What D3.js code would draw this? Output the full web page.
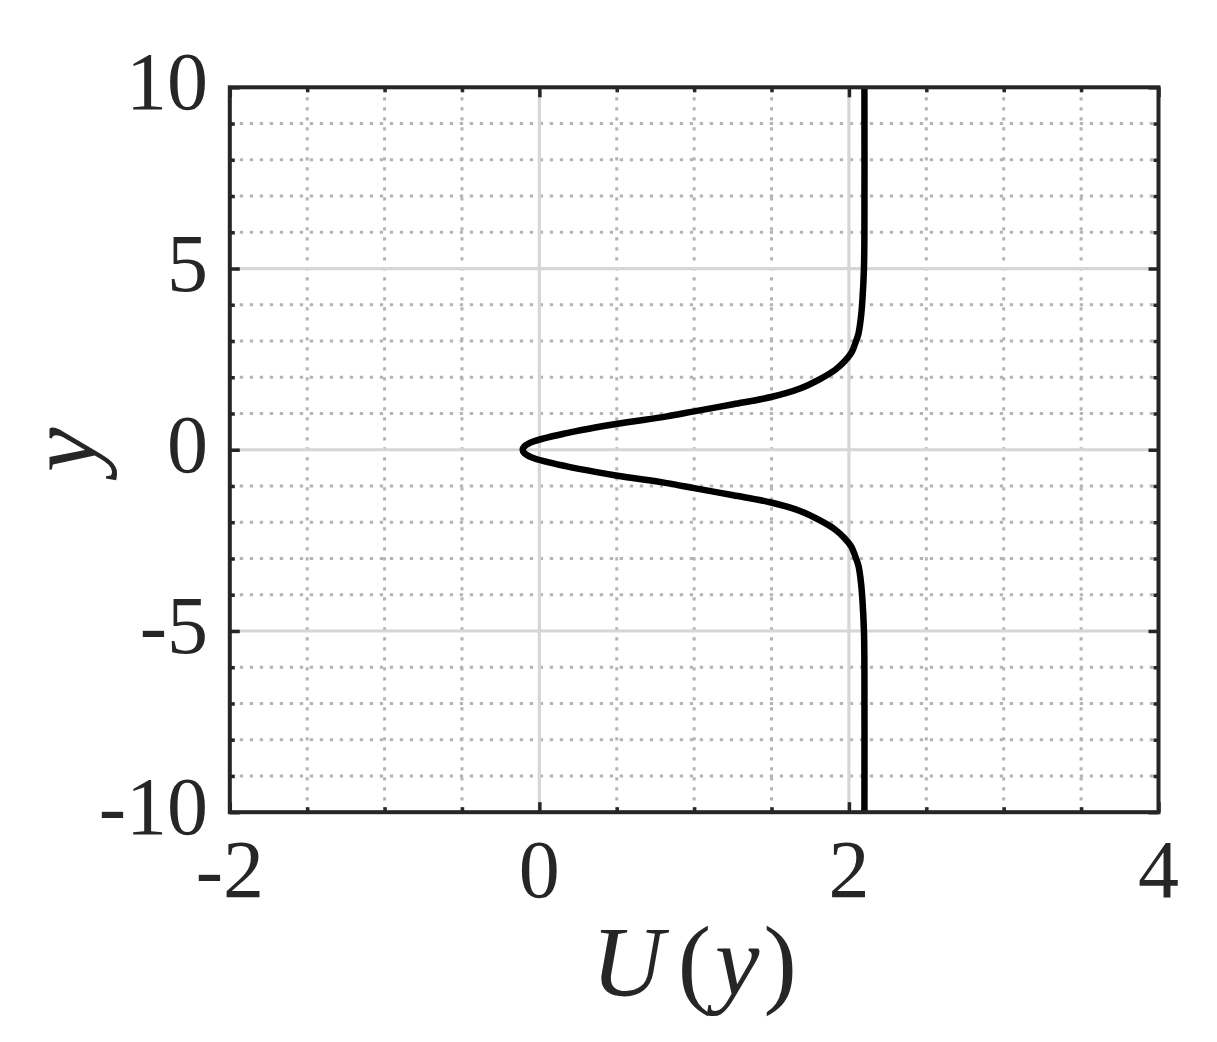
<!DOCTYPE html>
<html>
<head>
<meta charset="utf-8">
<script src="https://cdn.jsdelivr.net/npm/d3@7"></script>
<style>
html,body{margin:0;padding:0;background:#fff;}
svg{display:block;}
</style>
</head>
<body>
<svg id="chart" width="1217" height="1042"></svg>
<script>
// Data: coordinate y and profile U(y)
const yValues = [-10, -6, -5, -4.13, -3.67, -3.21, -3, -2.67, -2.44, -2.2, -1.95, -1.69, -1.455, -1.255, -1.06, -0.92, -0.71, -0.46, -0.23, -0.1, 0,
                 0.1, 0.23, 0.46, 0.71, 0.92, 1.06, 1.255, 1.455, 1.69, 1.95, 2.2, 2.44, 2.67, 3, 3.21, 3.67, 4.13, 5, 6, 10];
const uValues = [2.1, 2.1, 2.097, 2.087, 2.078, 2.062, 2.046, 2.015, 1.972, 1.91, 1.813, 1.684, 1.497, 1.253, 1.0, 0.823, 0.495, 0.177, -0.039, -0.095, -0.108,
                 -0.095, -0.039, 0.177, 0.495, 0.823, 1.0, 1.253, 1.497, 1.684, 1.813, 1.91, 1.972, 2.015, 2.046, 2.062, 2.078, 2.087, 2.097, 2.1, 2.1];

const xMajorTicks = [-2, 0, 2, 4];
const xTickLabels = ["-2", "0", "2", "4"];
const xMinorTicks = [-1.5, -1, -0.5, 0.5, 1, 1.5, 2.5, 3, 3.5];
const yMajorTicks = [-10, -5, 0, 5, 10];
const yTickLabels = ["-10", "-5", "0", "5", "10"];
const yMinorTicks = [-9, -8, -7, -6, -4, -3, -2, -1, 1, 2, 3, 4, 6, 7, 8, 9];
const xLabel = "U(y)";
const yLabel = "y";

const svg = d3.select("#chart");
const L = 229.8, R = 1158.5, T = 87.3, B = 812.2;
const x = d3.scaleLinear().domain([-2, 4]).range([L, R]);
const y = d3.scaleLinear().domain([-10, 10]).range([B, T]);

const fontFam = "'Liberation Serif','DejaVu Serif',serif";
const ink = "#262626";

// grid
const g = svg.append("g");
g.selectAll(".gxm").data(xMinorTicks).enter().append("line")
  .attr("x1", d => x(d)).attr("x2", d => x(d)).attr("y1", T).attr("y2", B)
  .attr("stroke", "#b4b4b4").attr("stroke-width", 3).attr("stroke-dasharray", "3.3,6.7");
g.selectAll(".gym").data(yMinorTicks).enter().append("line")
  .attr("y1", d => y(d)).attr("y2", d => y(d)).attr("x1", L).attr("x2", R)
  .attr("stroke", "#b4b4b4").attr("stroke-width", 3).attr("stroke-dasharray", "3.3,6.7");
g.selectAll(".gxM").data(xMajorTicks).enter().append("line")
  .attr("x1", d => x(d)).attr("x2", d => x(d)).attr("y1", T).attr("y2", B)
  .attr("stroke", "#d6d6d6").attr("stroke-width", 3.2);
g.selectAll(".gyM").data(yMajorTicks).enter().append("line")
  .attr("y1", d => y(d)).attr("y2", d => y(d)).attr("x1", L).attr("x2", R)
  .attr("stroke", "#d6d6d6").attr("stroke-width", 3.2);

// curve
const pts = yValues.map((v, i) => ({y: v, u: uValues[i]}));
const line = d3.line().x(d => x(d.u)).y(d => y(d.y)).curve(d3.curveCatmullRom.alpha(0.5));
svg.append("path").datum(pts).attr("d", line)
  .attr("fill", "none").attr("stroke", "#000").attr("stroke-width", 6.5)
  .attr("stroke-linejoin", "round");

// axes via d3 axis generators (ticks inward, on all four sides)
function styleAxis(sel) {
  sel.select(".domain").remove();
  sel.selectAll(".tick line").attr("stroke", ink).attr("stroke-width", 3.5);
  sel.selectAll("text").remove();
}
const axes = [
  [d3.axisBottom(x).tickValues(xMajorTicks).tickSizeInner(-10).tickSizeOuter(0), `translate(0,${B})`],
  [d3.axisBottom(x).tickValues(xMinorTicks).tickSizeInner(-5).tickSizeOuter(0), `translate(0,${B})`],
  [d3.axisTop(x).tickValues(xMajorTicks).tickSizeInner(-10).tickSizeOuter(0), `translate(0,${T})`],
  [d3.axisTop(x).tickValues(xMinorTicks).tickSizeInner(-5).tickSizeOuter(0), `translate(0,${T})`],
  [d3.axisLeft(y).tickValues(yMajorTicks).tickSizeInner(-10).tickSizeOuter(0), `translate(${L},0)`],
  [d3.axisLeft(y).tickValues(yMinorTicks).tickSizeInner(-5).tickSizeOuter(0), `translate(${L},0)`],
  [d3.axisRight(y).tickValues(yMajorTicks).tickSizeInner(-10).tickSizeOuter(0), `translate(${R},0)`],
  [d3.axisRight(y).tickValues(yMinorTicks).tickSizeInner(-5).tickSizeOuter(0), `translate(${R},0)`]
];
axes.forEach(([ax, tr]) => {
  svg.append("g").attr("transform", tr).call(ax).call(styleAxis);
});

// frame
svg.append("rect").attr("x", L).attr("y", T).attr("width", R - L).attr("height", B - T)
  .attr("fill", "none").attr("stroke", ink).attr("stroke-width", 4);

// tick labels
svg.selectAll(".xtl").data(xMajorTicks).enter().append("text")
  .attr("x", d => x(d)).attr("y", 897)
  .attr("text-anchor", "middle").attr("font-family", fontFam).attr("font-size", 82)
  .attr("fill", ink).text((d, i) => xTickLabels[i]);
svg.selectAll(".ytl").data(yMajorTicks).enter().append("text")
  .attr("x", 208).attr("y", d => y(d) + 22)
  .attr("text-anchor", "end").attr("font-family", fontFam).attr("font-size", 82)
  .attr("fill", ink).text((d, i) => yTickLabels[i]);

// axis labels
const xl = svg.append("text").attr("x", (L + R) / 2).attr("y", 995)
  .attr("text-anchor", "middle").attr("font-family", fontFam).attr("font-size", 100)
  .attr("fill", ink);
xl.append("tspan").attr("font-style", "italic").text(xLabel.slice(0, 1));
xl.append("tspan").attr("dx", 14).text("(");
xl.append("tspan").attr("dx", 4).attr("font-style", "italic").text(xLabel.slice(2, 3));
xl.append("tspan").attr("dx", 4).text(")");

svg.append("text").attr("transform", `translate(96,${(T + B) / 2}) rotate(-90)`)
  .attr("text-anchor", "middle").attr("font-family", fontFam).attr("font-size", 100)
  .attr("font-style", "italic").attr("fill", ink).text(yLabel);
</script>
</body>
</html>
